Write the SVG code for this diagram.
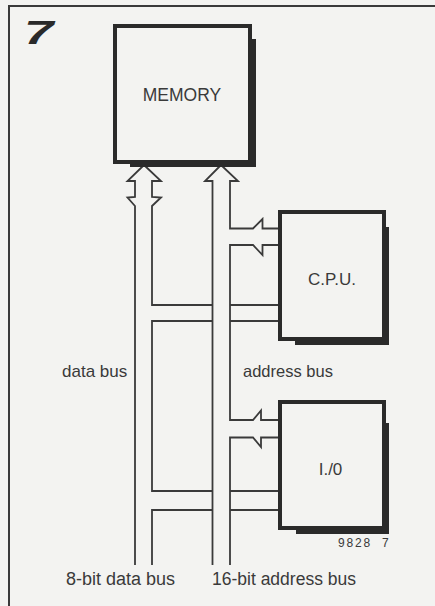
<svg xmlns="http://www.w3.org/2000/svg" width="435" height="606" viewBox="0 0 435 606">
<style>
.bg{fill:#f3f3f1}
.frame{fill:none;stroke:#3a3a3a;stroke-width:2}
.box{fill:#f3f3f1;stroke:#2a2a2a;stroke-width:4}
.shadow{fill:#2a2a2a}
.bus{fill:none;stroke:#3a3a3a;stroke-width:1.8;stroke-linejoin:miter}
.lbl{font-family:"Liberation Sans",Arial,sans-serif;fill:#3a3a3a}
.mid{text-anchor:middle}
</style>
<rect class="bg" x="0" y="0" width="435" height="606"/>
<path class="frame" d="M435,6 H9 V606"/>
<text x="0" y="0" transform="translate(24,43.5) scale(1.6,1)" font-family="Liberation Sans, Arial, sans-serif" font-weight="bold" font-style="italic" font-size="33" fill="#2a2a2a">7</text>

<g id="connectors">
  <!-- data bus -->
  <path class="bus" d="M144,165 L127.5,181 L135,181 L135,197 L127.5,197.5 L135,206 L135,565"/>
  <path class="bus" d="M144,165 L161,181 L152,181 L152,197 L161,197.5 L152,206 L152,305 L212,305"/>
  <path class="bus" d="M212,321 L152,321 L152,491 L212,491"/>
  <path class="bus" d="M212,510 L152,510 L152,565"/>
  <path class="bus" d="M230,305 H279 M230,321 H279 M230,491 H279 M230,510 H279"/>
  <!-- address bus -->
  <path class="bus" d="M221,165 L205,181 L212.5,181 L212.5,565"/>
  <path class="bus" d="M221,165 L238,181 L230,181 L230,228.5 L253,228.5 L262.5,219 L262.5,228.5 L279,228.5"/>
  <path class="bus" d="M279,245 L262.5,245 L262.5,255 L253,245 L230,245 L230,420 L253,420 L261,410.5 L261,420 L279,420"/>
  <path class="bus" d="M279,437.5 L261,437.5 L261,447 L253,437.5 L230,437.5 L230,565"/>
</g>

<g id="memory">
  <rect class="shadow" x="130" y="39" width="126" height="128"/>
  <rect class="box" x="115" y="26" width="135" height="136"/>
  <text class="lbl mid" x="182" y="100.5" style="font-size:17.5px">MEMORY</text>
</g>

<g id="cpu">
  <rect class="shadow" x="295" y="227" width="94" height="118"/>
  <rect class="box" x="280" y="212" width="104" height="127"/>
  <text class="lbl mid" x="332" y="285" style="font-size:17px">C.P.U.</text>
</g>

<g id="io">
  <rect class="shadow" x="296" y="423" width="93" height="111"/>
  <rect class="box" x="280" y="402" width="104" height="126"/>
  <text class="lbl mid" x="330.5" y="475" style="font-size:17px">I./0</text>
</g>

<g id="labels">
  <text class="lbl" x="62" y="377" style="font-size:17px">data bus</text>
  <text class="lbl" x="243" y="377" style="font-size:16.5px">address bus</text>
  <text class="lbl" x="66" y="585" style="font-size:18px">8-bit data bus</text>
  <text class="lbl" x="212" y="585" style="font-size:17.5px">16-bit address bus</text>
  <text class="lbl" x="338" y="547" style="font-size:12px;letter-spacing:1.8px">9828<tspan x="382">7</tspan></text>
</g>
</svg>
